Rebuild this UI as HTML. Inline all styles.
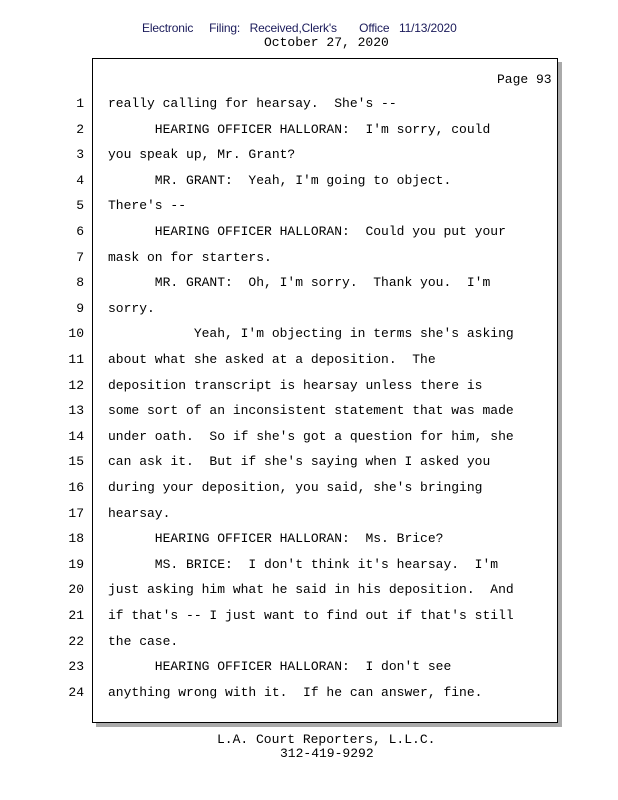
<!DOCTYPE html>
<html><head><style>
body{margin:0;width:618px;height:800px;background:#fff;position:relative;font-family:"Liberation Mono",monospace;font-size:13px;color:#000;overflow:hidden}
.t{position:absolute;white-space:pre;line-height:16px}
#box{position:absolute;left:92px;top:58px;width:464px;height:663px;border:1px solid #000;box-shadow:4px 4px 0 #aaa;background:#fff}
.n{position:absolute;width:30px;text-align:right;left:54px;white-space:pre;line-height:16px}
</style></head><body>
<div class="t" style="left:142px;top:20px;font-family:'Liberation Sans',sans-serif;font-size:12px;color:#1a1a5a;letter-spacing:-0.15px">Electronic     Filing:   Received,Clerk's       Office   11/13/2020</div>
<div class="t" style="left:264px;top:35px">October 27, 2020</div>
<div id="box"></div>
<div class="t" style="left:497px;top:72px">Page 93</div>
<div id="lines"></div>
<div class="t" style="left:217px;top:732px">L.A. Court Reporters, L.L.C.</div>
<div class="t" style="left:280px;top:746px">312-419-9292</div>
<script>
var L=["really calling for hearsay.  She's --",
"      HEARING OFFICER HALLORAN:  I'm sorry, could",
"you speak up, Mr. Grant?",
"      MR. GRANT:  Yeah, I'm going to object.",
"There's --",
"      HEARING OFFICER HALLORAN:  Could you put your",
"mask on for starters.",
"      MR. GRANT:  Oh, I'm sorry.  Thank you.  I'm",
"sorry.",
"           Yeah, I'm objecting in terms she's asking",
"about what she asked at a deposition.  The",
"deposition transcript is hearsay unless there is",
"some sort of an inconsistent statement that was made",
"under oath.  So if she's got a question for him, she",
"can ask it.  But if she's saying when I asked you",
"during your deposition, you said, she's bringing",
"hearsay.",
"      HEARING OFFICER HALLORAN:  Ms. Brice?",
"      MS. BRICE:  I don't think it's hearsay.  I'm",
"just asking him what he said in his deposition.  And",
"if that's -- I just want to find out if that's still",
"the case.",
"      HEARING OFFICER HALLORAN:  I don't see",
"anything wrong with it.  If he can answer, fine."];
var h="";
for(var i=0;i<24;i++){var y=96+i*25.6;
h+='<div class="n" style="top:'+y+'px">'+(i+1)+'</div><div class="t" style="left:108px;top:'+y+'px">'+L[i].replace(/&/g,"&amp;").replace(/</g,"&lt;")+'</div>';}
document.getElementById("lines").innerHTML=h;
</script>
</body></html>
